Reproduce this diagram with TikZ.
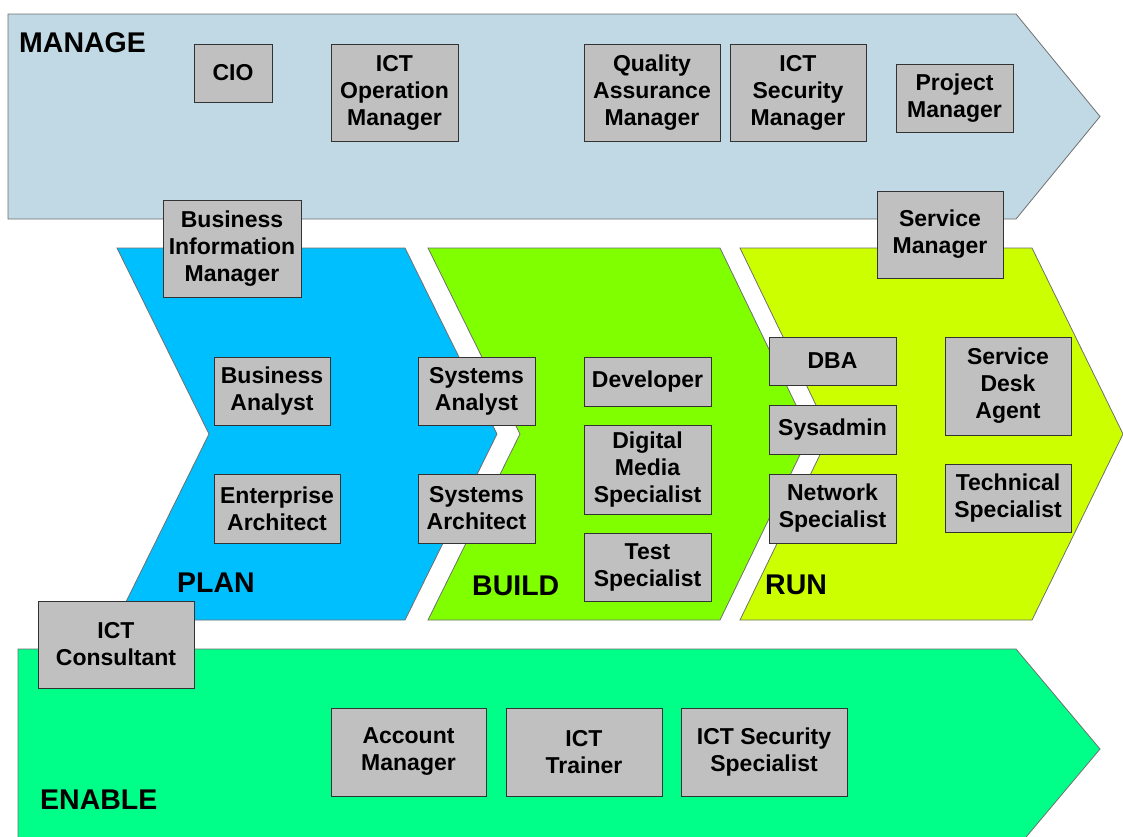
\documentclass[tikz,border=0pt]{standalone}
\usepackage{fontspec}
\setmainfont{Liberation Sans}
\definecolor{managecol}{RGB}{193,217,228}
\definecolor{plancol}{RGB}{0,191,255}
\definecolor{buildcol}{RGB}{128,255,0}
\definecolor{runcol}{RGB}{204,255,0}
\definecolor{enablecol}{RGB}{0,255,136}
\definecolor{rolegray}{RGB}{192,192,192}
\definecolor{edgegray}{RGB}{112,112,112}
\begin{document}
\begin{tikzpicture}[x=1pt,y=-1pt,
  band/.style={draw=edgegray,line width=0.8pt},
  role/.style={draw=black!80,fill=rolegray,line width=0.9pt,inner sep=0pt,
    align=center,font=\fontsize{23}{27}\selectfont\bfseries},
  phase/.style={anchor=west,inner sep=0pt,font=\fontsize{28.5}{34}\selectfont\bfseries}]
 \clip (0,0) rectangle (1123,836);
 \fill[white] (0,0) rectangle (1123,836);
 % bands and chevrons
 \draw[band,fill=managecol] (8,14) -- (1016,14) -- (1100,116.5) -- (1016,219) -- (8,219) -- cycle;
 \draw[band,fill=enablecol] (18,649) -- (1016,649) -- (1100,749) -- (1016,849) -- (18,849) -- cycle;
 \draw[band,fill=plancol] (117,248) -- (405,248) -- (497,434) -- (405,620) -- (117,620) -- (209,434) -- cycle;
 \draw[band,fill=buildcol] (428,248) -- (720,248) -- (810,434) -- (720,620) -- (428,620) -- (520,434) -- cycle;
 \draw[band,fill=runcol] (740,248) -- (1032,248) -- (1123,434) -- (1032,620) -- (740,620) -- (830,434) -- cycle;
 \node[phase] (manage) at (19,43) {MANAGE};
 \node[phase] (plan) at (177,583) {PLAN};
 \node[phase] (build) at (472,586) {BUILD};
 \node[phase] (run) at (765,585) {RUN};
 \node[phase] (enable) at (40,800) {ENABLE};
 % manage
 \node[role,minimum width=78,minimum height=58] (cio) at (233,73) {CIO};
 \node[role,minimum width=127,minimum height=97] (opsmgr) at (394.5,92.5) {ICT\\Operation\\Manager};
 \node[role,minimum width=136,minimum height=97] (qamgr) at (652,92.5) {Quality\\Assurance\\Manager};
 \node[role,minimum width=136,minimum height=97] (secmgr) at (798,92.5) {ICT\\Security\\Manager};
 \node[role,minimum width=117,minimum height=68] (projmgr) at (954.5,98) {Project\\Manager};
 \node[role,minimum width=138,minimum height=97] (bizinfo) at (232,248.5) {Business\\Information\\Manager};
 \node[role,minimum width=126,minimum height=87] (svcmgr) at (940,234.5) {Service\\Manager};
 % plan
 \node[role,minimum width=116,minimum height=68] (bizanalyst) at (272,391) {Business\\Analyst};
 \node[role,minimum width=126,minimum height=69] (entarch) at (277,508.5) {Enterprise\\Architect};
 \node[role,minimum width=117,minimum height=68] (sysanalyst) at (476.5,391) {Systems\\Analyst};
 \node[role,minimum width=117,minimum height=69] (sysarch) at (476.5,508.5) {Systems\\Architect};
 % build
 \node[role,minimum width=127,minimum height=49] (developer) at (647.5,381.5) {Developer};
 \node[role,minimum width=127,minimum height=89] (digmedia) at (647.5,469.5) {Digital\\Media\\Specialist};
 \node[role,minimum width=127,minimum height=68] (testspec) at (647.5,567) {Test\\Specialist};
 % run
 \node[role,minimum width=127,minimum height=48] (dba) at (832.5,361) {DBA};
 \node[role,minimum width=127,minimum height=49] (sysadmin) at (832.5,429.5) {Sysadmin};
 \node[role,minimum width=127,minimum height=69] (netspec) at (832.5,508.5) {Network\\Specialist};
 \node[role,minimum width=126,minimum height=98] (svcdesk) at (1008,386) {Service\\Desk\\Agent};
 \node[role,minimum width=126,minimum height=68] (techspec) at (1008,498) {Technical\\Specialist};
 % enable
 \node[role,minimum width=156,minimum height=87] (consultant) at (116,644.5) {ICT\\Consultant};
 \node[role,minimum width=155,minimum height=88] (accmgr) at (408.5,752) {Account\\Manager};
 \node[role,minimum width=156,minimum height=88] (trainer) at (584,752) {ICT\\Trainer};
 \node[role,minimum width=166,minimum height=88] (secspec) at (764,752) {ICT Security\\Specialist};
\end{tikzpicture}
\end{document}
